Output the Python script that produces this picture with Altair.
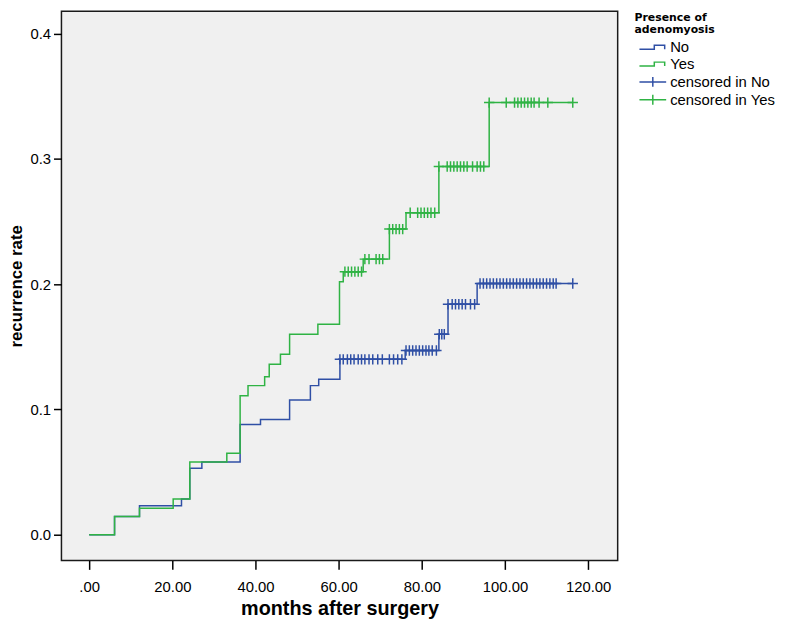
import altair as alt
import pandas as pd

# ---- data (months after surgery, cumulative recurrence rate) ----
no_times = [0, 6.1, 12.1, 22.2, 24.2, 27.1, 36.3, 41.2, 48.2, 53.2, 55.2, 60.3, 76.0, 84.1, 86.3, 93.3, 116.3]
no_rates = [0, 0.0145, 0.023, 0.0285, 0.053, 0.058, 0.088, 0.092, 0.1075, 0.119, 0.124, 0.140, 0.147, 0.160, 0.184, 0.2005, 0.2005]

yes_times = [0, 6.1, 12.1, 20.2, 24.2, 33.1, 36.3, 38.2, 42.2, 43.3, 46.0, 48.2, 55.0, 60.2, 61.1, 65.9, 72.2, 76.2, 84.1, 96.2, 116.3]
yes_rates = [0, 0.0145, 0.021, 0.0285, 0.058, 0.065, 0.111, 0.119, 0.126, 0.136, 0.144, 0.160, 0.168, 0.202, 0.210, 0.220, 0.244, 0.257, 0.294, 0.345, 0.345]

no_censored = [60.3, 61.1, 62.1, 62.9, 63.7, 64.7, 65.5, 66.3, 67.3, 68.2, 69.4, 70.5, 72.2, 73.2, 74.2, 75.2,
               76.2, 77.0, 77.8, 78.6, 79.4, 80.2, 81.0, 81.7, 82.5, 83.5,
               84.2, 84.8, 85.4,
               86.3, 87.3, 88.1, 88.9, 89.7, 90.5, 91.7, 92.7,
               94.0, 94.8, 95.6, 96.4, 97.2, 98.0, 98.8, 99.6, 100.4, 101.2, 102.0, 102.8,
               103.6, 104.4, 105.2, 106.0, 106.8, 107.6, 108.4, 109.2, 110.0, 110.8, 111.6, 112.3, 116.3]

yes_censored = [61.5, 62.3, 63.1, 63.9, 64.7, 65.5,
                66.3, 67.3, 69.0, 69.8, 70.6,
                72.2, 73.0, 73.8, 74.6, 75.4,
                77.2, 79.0, 79.8, 80.6, 81.4, 82.2, 83.1,
                84.1, 86.1, 86.9, 87.7, 88.5, 89.3, 90.1, 90.9, 92.2, 93.3, 94.1, 94.9,
                96.2, 100.3, 102.3, 103.1, 103.9, 104.7, 105.5, 106.3, 107.0, 108.2, 110.3, 116.3]

series_domain = ["No", "Yes", "censored in No", "censored in Yes"]
colors = ["#2f4fa5", "#2fb344", "#2f4fa5", "#2fb344"]
x_ticks = [0, 20, 40, 60, 80, 100, 120]
y_ticks = [0.0, 0.1, 0.2, 0.3, 0.4]


def level_at(times, rates, t):
    val = rates[0]
    for tt, rr in zip(times, rates):
        if tt <= t + 1e-9:
            val = rr
    return val


line_rows = []
for g, ts, rs in [("No", no_times, no_rates), ("Yes", yes_times, yes_rates)]:
    for t, r in zip(ts, rs):
        line_rows.append({"month": t, "rate": r, "series": g})
line_df = pd.DataFrame(line_rows)

cens_rows = []
for g, cs, ts, rs in [("No", no_censored, no_times, no_rates), ("Yes", yes_censored, yes_times, yes_rates)]:
    for c in cs:
        cens_rows.append({"month": c, "rate": level_at(ts, rs, c), "series": "censored in " + g})
cens_df = pd.DataFrame(cens_rows)

all_df = pd.concat([line_df, cens_df], ignore_index=True)

# legend glyphs (drawn at symbolSize 100, i.e. unit = 5px)
STEP = "M-2.7,0.4L0.3,0.4L0.3,-0.4L2.4,-0.4L2.4,0.4"
PLUS_LEG = "M-2.7,0L2.7,0M0,-1L0,1"
# censor mark in the plot
PLUS = "M-1,0L1,0M0,-1L0,1"

xscale = alt.Scale(domain=[-6.67, 127.1], nice=False, zero=False)
yscale = alt.Scale(domain=[-0.0206, 0.418], nice=False, zero=False)
cscale = alt.Scale(domain=series_domain, range=colors)
sscale = alt.Scale(domain=series_domain, range=[STEP, STEP, PLUS_LEG, PLUS_LEG])

leg = alt.Legend(title=["Presence of", "adenomyosis"], orient="none", legendX=579, legendY=1)

xaxis = alt.Axis(values=x_ticks, labelExpr="datum.value == 0 ? '.00' : format(datum.value, '.2f')",
                 title="months after surgery", grid=False, domain=False, tickSize=9,
                 tickColor="#000", tickWidth=1.5, labelFontSize=15, labelPadding=10,
                 titleFontSize=20, titleFontWeight="bold", titlePadding=5, titleColor="#000",
                 labelColor="#000")
yaxis = alt.Axis(values=y_ticks, format=".1f", title="recurrence rate", grid=False, domain=False,
                 tickSize=8, tickColor="#000", tickWidth=1.5, labelFontSize=15, labelPadding=3,
                 titleFontSize=17, titleFontWeight="bold", titlePadding=4, titleColor="#000",
                 labelColor="#000")

lines = alt.Chart(line_df).mark_line(interpolate="step-after", strokeWidth=1.5).encode(
    x=alt.X("month:Q", scale=xscale, axis=xaxis),
    y=alt.Y("rate:Q", scale=yscale, axis=yaxis),
    color=alt.Color("series:N", scale=cscale, legend=leg),
)

cens = alt.Chart(cens_df).mark_point(shape=PLUS, size=110, filled=False, strokeWidth=1.5, opacity=1).encode(
    x=alt.X("month:Q", scale=xscale),
    y=alt.Y("rate:Q", scale=yscale),
    color=alt.Color("series:N", scale=cscale, legend=leg),
)

legend_layer = alt.Chart(all_df).mark_point(size=0, filled=False, strokeOpacity=0).encode(
    x=alt.X("month:Q", scale=xscale),
    y=alt.Y("rate:Q", scale=yscale),
    color=alt.Color("series:N", scale=cscale, legend=leg),
    shape=alt.Shape("series:N", scale=sscale, legend=leg),
)

chart = alt.layer(lines, cens, legend_layer).properties(
    width=562, height=555,
    autosize=alt.AutoSizeParams(type="none"),
    padding={"left": 54, "top": 0, "right": 163, "bottom": 60},
).configure(
    font="Liberation Sans",
).configure_view(
    fill="#f0f0f0", stroke="#1a1a1a", strokeWidth=1.5,
).configure_legend(
    titleFont="DejaVu Sans", titleFontSize=11, titleFontWeight="bold", titleColor="#000",
    titleLineHeight=12, titlePadding=5,
    labelFont="Liberation Sans", labelFontSize=15, labelColor="#000",
    symbolSize=100, symbolStrokeWidth=1.5, symbolOpacity=1, symbolFillColor="transparent",
    symbolOffset=11, rowPadding=1, labelOffset=10,
)

chart.save("out.html", embed_options={"renderer": "svg", "actions": False})
